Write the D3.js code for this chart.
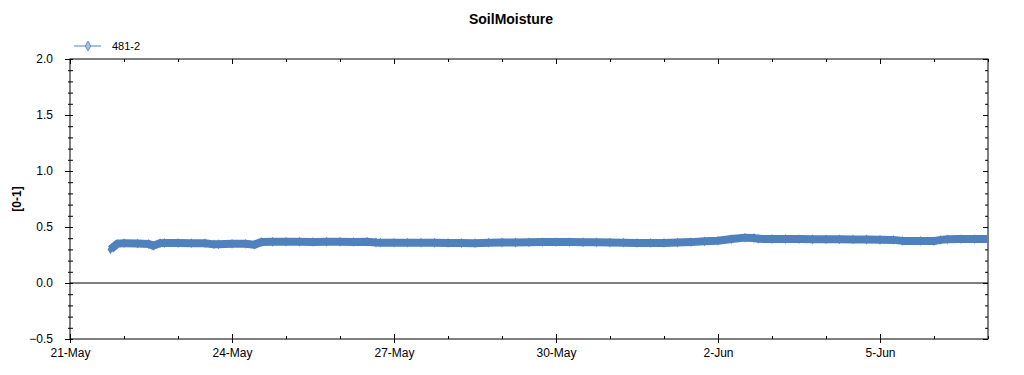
<!DOCTYPE html>
<html>
<head>
<meta charset="utf-8">
<script src="https://cdn.jsdelivr.net/npm/d3@7"></script>
<style>
  body { margin: 0; background: #fff; }
  text { font-family: "Liberation Sans", Arial, sans-serif; }
</style>
</head>
<body>
<div id="chart"></div>
<script>
const chartTitle = "SoilMoisture";
const yLabel = "[0-1]";
const seriesName = "481-2";

// readings (approx.)
const times = [
  "2014-05-21 18:00", "2014-05-21 21:00", "2014-05-22 00:00", "2014-05-22 06:00", "2014-05-22 11:00",
  "2014-05-22 13:00", "2014-05-22 16:00", "2014-05-22 18:00", "2014-05-23 00:00", "2014-05-23 06:00",
  "2014-05-23 12:00", "2014-05-23 16:00", "2014-05-23 18:00", "2014-05-24 00:00", "2014-05-24 06:00",
  "2014-05-24 10:00", "2014-05-24 13:00", "2014-05-24 18:00", "2014-05-25 00:00", "2014-05-25 06:00",
  "2014-05-25 12:00", "2014-05-25 18:00", "2014-05-26 00:00", "2014-05-26 06:00", "2014-05-26 12:00",
  "2014-05-26 16:00", "2014-05-26 18:00", "2014-05-27 00:00", "2014-05-27 06:00", "2014-05-27 12:00",
  "2014-05-27 18:00", "2014-05-28 00:00", "2014-05-28 06:00", "2014-05-28 12:00", "2014-05-28 18:00",
  "2014-05-29 00:00", "2014-05-29 06:00", "2014-05-29 12:00", "2014-05-29 18:00", "2014-05-30 00:00",
  "2014-05-30 06:00", "2014-05-30 12:00", "2014-05-30 18:00", "2014-05-31 00:00", "2014-05-31 06:00",
  "2014-05-31 12:00", "2014-05-31 18:00", "2014-06-01 00:00", "2014-06-01 06:00", "2014-06-01 12:00",
  "2014-06-01 18:00", "2014-06-02 00:00", "2014-06-02 06:00", "2014-06-02 12:00", "2014-06-02 16:00",
  "2014-06-02 18:00", "2014-06-03 00:00", "2014-06-03 06:00", "2014-06-03 12:00", "2014-06-03 18:00",
  "2014-06-04 00:00", "2014-06-04 06:00", "2014-06-04 12:00", "2014-06-04 18:00", "2014-06-05 00:00",
  "2014-06-05 06:00", "2014-06-05 10:00", "2014-06-05 18:00", "2014-06-06 00:00", "2014-06-06 03:00",
  "2014-06-06 06:00", "2014-06-06 12:00", "2014-06-06 18:00", "2014-06-07 00:00"
];
const values = [
  0.300, 0.350, 0.356, 0.352, 0.348,
  0.332, 0.356, 0.357, 0.357, 0.356,
  0.355, 0.345, 0.346, 0.350, 0.350,
  0.342, 0.366, 0.368, 0.369, 0.368,
  0.367, 0.368, 0.368, 0.367, 0.369,
  0.362, 0.360, 0.360, 0.360, 0.360,
  0.359, 0.358, 0.357, 0.356, 0.360,
  0.362, 0.362, 0.363, 0.365, 0.365,
  0.365, 0.364, 0.364, 0.362, 0.360,
  0.358, 0.358, 0.358, 0.362, 0.365,
  0.372, 0.378, 0.392, 0.405, 0.402,
  0.394, 0.393, 0.393, 0.392, 0.391,
  0.390, 0.390, 0.389, 0.388, 0.386,
  0.385, 0.376, 0.376, 0.374, 0.385,
  0.390, 0.392, 0.392, 0.392
];

const xDomain = ["2014-05-21 00:00", "2014-06-07 00:00"];
const yDomain = [-0.5, 2.0];
const yMajorTicks = [-0.5, 0.0, 0.5, 1.0, 1.5, 2.0];
const xLabelEvery = 3; // days

const width = 1024, height = 375;
const margin = { top: 59, right: 36, bottom: 36, left: 70 };
const color = "#4f81bd";

const parse = d3.timeParse("%Y-%m-%d %H:%M");
const data = times.map((t, i) => ({ t: parse(t), v: values[i] }));
const start = parse(xDomain[0]), end = parse(xDomain[1]);

const x = d3.scaleTime().domain([start, end]).range([margin.left, width - margin.right]);
const y = d3.scaleLinear().domain(yDomain).range([height - margin.bottom, margin.top]);

const svg = d3.select("#chart").append("svg")
  .attr("width", width).attr("height", height);

const x0 = x.range()[0], x1 = x.range()[1];
const y0 = y.range()[0], y1 = y.range()[1];

// ticks
const days = d3.timeDay.range(start, d3.timeDay.offset(end, 1));
const isMajorDay = d => Math.round((d - start) / 864e5) % xLabelEvery === 0;
const yMinor = d3.range(-5, 21).map(i => i / 10);
const isMajorY = v => yMajorTicks.some(m => Math.abs(m - v) < 1e-6);
const fmt = d3.timeFormat("%-d-%b");

// bottom
const gb = svg.append("g").attr("transform", `translate(0,${y0})`)
  .call(d3.axisBottom(x).tickValues(days).tickSize(0).tickPadding(9)
    .tickFormat(d => isMajorDay(d) ? fmt(d) : ""));
gb.select(".domain").remove();
gb.selectAll(".tick line").attr("y1", d => isMajorDay(d) ? -5 : -3).attr("y2", d => isMajorDay(d) ? 4 : 0);
gb.selectAll(".tick text").attr("font-size", 12).attr("fill", "#000");

// top
const gt = svg.append("g").attr("transform", `translate(0,${y1})`)
  .call(d3.axisTop(x).tickValues(days).tickSize(0).tickFormat(""));
gt.select(".domain").remove();
gt.selectAll(".tick line").attr("y1", 0).attr("y2", d => isMajorDay(d) ? 5 : 3);

// left
const gl = svg.append("g").attr("transform", `translate(${x0},0)`)
  .call(d3.axisLeft(y).tickValues(yMinor).tickSize(0).tickPadding(17)
    .tickFormat(v => isMajorY(v) ? d3.format(".1f")(v) : ""));
gl.select(".domain").remove();
gl.selectAll(".tick line").attr("x1", v => isMajorY(v) ? -5 : -2).attr("x2", 3);
gl.selectAll(".tick text").attr("font-size", 12).attr("fill", "#000");

// right
const gr = svg.append("g").attr("transform", `translate(${x1},0)`)
  .call(d3.axisRight(y).tickValues(yMinor).tickSize(0).tickFormat(""));
gr.select(".domain").remove();
gr.selectAll(".tick line").attr("x1", v => isMajorY(v) ? -5 : -3).attr("x2", 0);

// frame + zero line
svg.append("rect")
  .attr("x", x0).attr("y", y1).attr("width", x1 - x0).attr("height", y0 - y1)
  .attr("fill", "none").attr("stroke", "#000").attr("stroke-width", 1);
svg.append("line")
  .attr("x1", x0).attr("x2", x1).attr("y1", y(0)).attr("y2", y(0))
  .attr("stroke", "#000").attr("stroke-width", 1);

// series
svg.append("clipPath").attr("id", "plot")
  .append("rect").attr("x", x0).attr("y", y1).attr("width", x1 - x0).attr("height", y0 - y1);
const plot = svg.append("g").attr("clip-path", "url(#plot)");

plot.append("path")
  .datum(data)
  .attr("fill", "none")
  .attr("stroke", color)
  .attr("stroke-width", 8)
  .attr("stroke-linejoin", "round")
  .attr("d", d3.line().x(d => x(d.t)).y(d => y(d.v)));

plot.selectAll("path.pt")
  .data(data)
  .join("path")
  .attr("class", "pt")
  .attr("transform", d => `translate(${x(d.t)},${y(d.v)})`)
  .attr("d", d3.symbol(d3.symbolDiamond, 28))
  .attr("fill", color);

// legend
const lg = svg.append("g").attr("transform", "translate(74,46)");
lg.append("line").attr("x1", 0).attr("x2", 27).attr("stroke", color).attr("stroke-width", 1);
lg.append("path").attr("transform", "translate(14,0)")
  .attr("d", d3.symbol(d3.symbolDiamond, 28))
  .attr("fill", "#a8bfdc").attr("stroke", color).attr("stroke-width", 0.8);
lg.append("text").attr("x", 38).attr("y", 4).attr("font-size", 11).text(seriesName);

// title + y label
svg.append("text")
  .attr("x", (x0 + x1) / 2 - 18).attr("y", 24)
  .attr("text-anchor", "middle").attr("font-size", 14).attr("font-weight", "bold")
  .text(chartTitle);
svg.append("text")
  .attr("transform", `translate(21,${(y0 + y1) / 2}) rotate(-90)`)
  .attr("text-anchor", "middle").attr("font-size", 12).attr("font-weight", "bold")
  .text(yLabel);
</script>
</body>
</html>
